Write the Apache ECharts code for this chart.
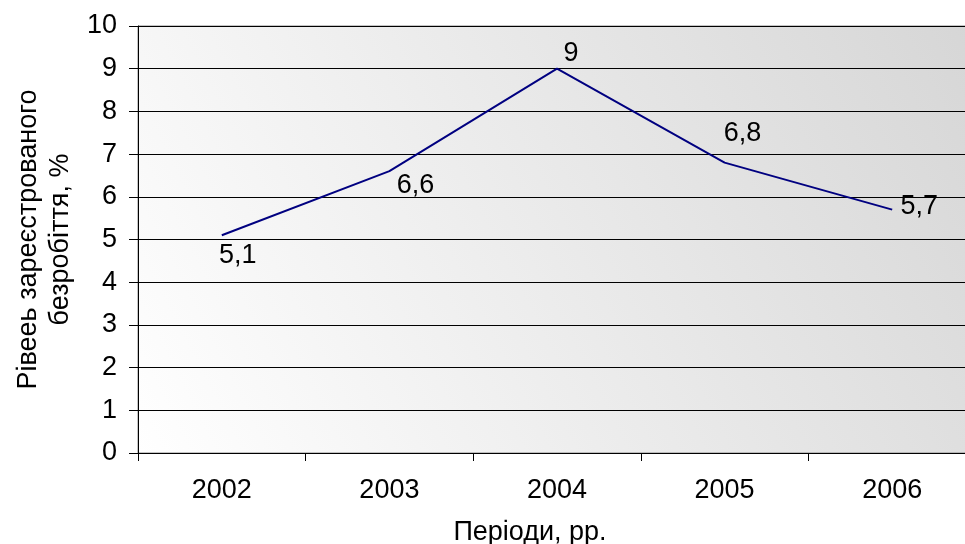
<!DOCTYPE html>
<html>
<head>
<meta charset="utf-8">
<script src="https://cdn.jsdelivr.net/npm/echarts@6/dist/echarts.min.js"></script>
<style>html,body{margin:0;padding:0;background:#fff}#c{width:965px;height:544px}</style>
</head>
<body>
<div id="c"></div>
<script>
const categories = ['2002', '2003', '2004', '2005', '2006'];
const values = [5.1, 6.6, 9, 6.8, 5.7];
const labelOffsets = [[16, 20], [26, 14], [14, -15], [18, -29], [27, -3]];
const yTitle = 'Рівееь зареєстрованого\nбезробіття, %';
const xTitle = 'Періоди, рр.';

const chart = echarts.init(document.getElementById('c'), null, {renderer: 'canvas'});
const font = 'Liberation Sans, Arial, sans-serif';
const fs = 27;
chart.setOption({
  animation: false,
  textStyle: {fontFamily: font},
  grid: {
    left: 138, right: -11, top: 26, bottom: 91,
    outerBoundsMode: 'none',
    containLabel: false,
    show: true,
    borderColor: '#8a8a8a', borderWidth: 1,
    backgroundColor: new echarts.graphic.LinearGradient(0, 1, 1, 0, [
      {offset: 0, color: '#ffffff'},
      {offset: 1, color: '#d6d6d6'}
    ])
  },
  xAxis: {
    type: 'category',
    data: categories,
    boundaryGap: true,
    axisLine: {lineStyle: {color: '#000', width: 1}},
    axisTick: {show: true, length: 8, lineStyle: {color: '#000'}},
    axisLabel: {color: '#000', fontSize: fs, fontFamily: font, margin: 24},
    splitLine: {show: false}
  },
  yAxis: {
    type: 'value',
    min: 0, max: 10, interval: 1,
    name: yTitle,
    nameLocation: 'middle',
    nameGap: 60,
    nameTextStyle: {color: '#000', fontSize: fs, fontFamily: font, lineHeight: 32},
    axisLine: {show: true, lineStyle: {color: '#000', width: 1}},
    axisTick: {show: true, length: 9, lineStyle: {color: '#000'}},
    axisLabel: {color: '#000', fontSize: fs, fontFamily: font, margin: 21},
    splitLine: {show: true, lineStyle: {color: '#000', width: 1}}
  },
  graphic: [{
    type: 'text',
    x: 530, y: 533,
    style: {text: xTitle, fill: '#000', font: fs + 'px ' + font, textAlign: 'center', textVerticalAlign: 'middle'}
  }],
  series: [{
    type: 'line',
    data: values.map((v, i) => ({
      value: v,
      label: {offset: labelOffsets[i]}
    })),
    symbol: 'circle',
    symbolSize: 2,
    showSymbol: true,
    itemStyle: {color: 'rgba(0,0,0,0)', borderWidth: 0},
    lineStyle: {color: '#000080', width: 2},
    label: {
      show: true,
      position: 'inside',
      color: '#000',
      fontSize: fs,
      fontFamily: font,
      formatter: p => String(p.value).replace('.', ',')
    }
  }]
});
</script>
</body>
</html>
